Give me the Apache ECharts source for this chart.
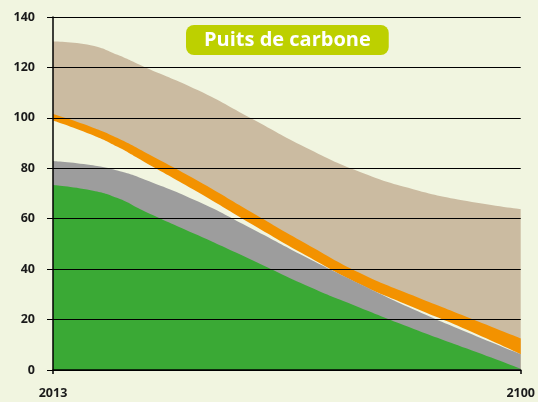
<!DOCTYPE html>
<html>
<head>
<meta charset="utf-8">
<script src="https://cdn.jsdelivr.net/npm/echarts@6/dist/echarts.min.js"></script>
<style>
  html, body { margin: 0; padding: 0; background: #f1f5e0; }
  #chart { width: 538px; height: 402px; }
</style>
</head>
<body>
<div id="chart"></div>
<script>
const years = [2013, 2020, 2025, 2030, 2040, 2050, 2060, 2070, 2080, 2090, 2100]
const xTickYears = [2013, 2100]

// bord supérieur de chaque bande
const tanTop = [130.3, 128.8, 125, 120.2, 110.9, 99.6, 88.2, 78.6, 71.7, 67.0, 63.8]
const orangeTop = [101.5, 96.5, 92, 86.5, 75, 62.5, 50.2, 38.6, 29.5, 21, 12.5]
const orangeBottom = [99, 93.5, 88.5, 82.5, 70.5, 57.8, 45.5, 34.1, 24.9, 16, 6.3]
const grayTop = [82.9, 81.3, 79.1, 75.6, 66.8, 56, 44.8, 34.2, 24.1, 15, 6.3]
const greenTop = [73.4, 71.3, 68.2, 63, 53.4, 43.6, 33.6, 24.8, 16.4, 8.5, 0.5]

const bg = '#f1f5e0'

const pairs = vals => years.map((y, i) => [y, vals[i]])

// chaque courbe remplit jusqu'à 0, les suivantes recouvrent les précédentes
const band = (name, vals, color) => ({
  name,
  type: 'line',
  data: pairs(vals),
  smooth: 0.5,
  symbol: 'none',
  lineStyle: { width: 0 },
  areaStyle: { color, opacity: 1 },
  silent: true
})

const chart = echarts.init(document.getElementById('chart'))

chart.setOption({
  backgroundColor: bg,
  animation: false,
  title: {
    text: 'Puits de carbone',
    left: 186,
    top: 25,
    backgroundColor: '#bdd000',
    borderRadius: 8,
    padding: [5, 18, 4, 18],
    textStyle: {
      color: '#ffffff',
      fontFamily: 'Open Sans',
      fontWeight: 'bold',
      fontSize: 20,
      lineHeight: 21
    }
  },
  grid: { left: 53, right: 15, top: 17, bottom: 32 },
  xAxis: {
    type: 'value',
    min: 2013,
    max: 2100,
    z: 10,
    splitLine: { show: false },
    axisLine: { lineStyle: { color: '#000', width: 1.5 } },
    axisTick: { customValues: xTickYears, length: 4, lineStyle: { color: '#000', width: 1.5 } },
    axisLabel: {
      customValues: xTickYears,
      formatter: v => String(v),
      margin: 17,
      color: '#1a1a1a',
      fontFamily: 'Open Sans',
      fontWeight: 'bold',
      fontSize: 12.5
    }
  },
  yAxis: {
    type: 'value',
    min: 0,
    max: 140,
    interval: 20,
    z: 10,
    axisLine: { show: true, lineStyle: { color: '#000', width: 1.5 } },
    axisTick: { show: true, length: 6, lineStyle: { color: '#000' } },
    splitLine: { show: true, lineStyle: { color: '#000', width: 1 } },
    axisLabel: {
      margin: 18,
      color: '#1a1a1a',
      fontFamily: 'Open Sans',
      fontWeight: 'bold',
      fontSize: 12.5
    }
  },
  series: [
    band('tan', tanTop, '#cbbba1'),
    band('orange', orangeTop, '#f39200'),
    band('gap', orangeBottom, bg),
    band('gray', grayTop, '#9d9d9d'),
    band('green', greenTop, '#3aa935')
  ]
})
</script>
</body>
</html>
